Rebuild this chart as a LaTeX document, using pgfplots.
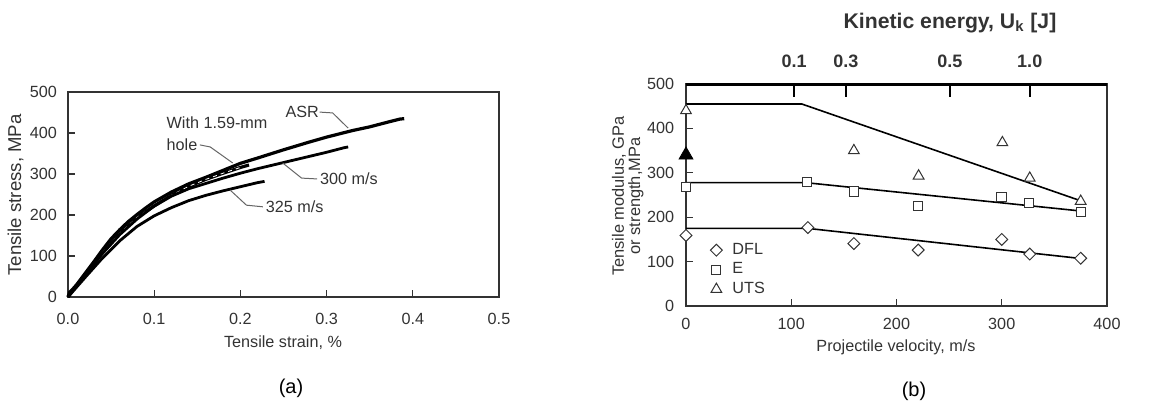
\documentclass[border=0pt]{standalone}
\usepackage{fontspec}
\setmainfont{Liberation Sans}
\usepackage{pgfplots}
\pgfplotsset{compat=1.18}
\definecolor{fg}{gray}{0.2}
\begin{document}
\begin{tikzpicture}
\path[use as bounding box] (0,0) rectangle (581.5pt,201.5pt);
\pgfplotsset{
  every axis/.append style={
    scale only axis, clip=false,
    /pgf/number format/assume math mode=true,
    tick align=inside,
    axis line style={fg, line width=0.55pt},
    tick style={fg, line width=0.55pt},
    major tick length=3.5pt,
    ticklabel style={font=\fontsize{8.1}{9}\selectfont, text=fg},
  }
}
% ---------------- (a)
\begin{axis}[
  at={(34pt,53pt)}, anchor=south west,
  width=215.5pt, height=102.5pt,
  xmin=0, xmax=0.5, ymin=0, ymax=500,
  xtick={0,0.1,0.2,0.3,0.4,0.5},
  xticklabels={0.0,0.1,0.2,0.3,0.4,0.5},
  ytick={0,100,200,300,400,500},
  xtick pos=lower, ytick pos=left,
  xticklabel style={yshift=-4.5pt},
  yticklabel style={xshift=-2pt},
]
% ASR
\addplot[black, line width=1.6pt] coordinates {
(0,0)(0.002,12)(0.005,18)(0.01,30)(0.02,58)(0.03,86)(0.04,115)(0.05,142)
(0.06,164)(0.07,184)(0.08,201)(0.09,217)(0.10,232)(0.12,256)(0.14,276)
(0.16,292)(0.18,309)(0.20,326)(0.22,339)(0.25,359)(0.28,378)(0.30,390)
(0.33,406)(0.35,415)(0.37,426)(0.385,434)(0.39,435)};
% with hole
\addplot[black, line width=1.6pt] coordinates {
(0,0)(0.005,15)(0.02,55)(0.04,108)(0.06,155)(0.08,194)(0.10,222)(0.12,248)
(0.14,270)(0.16,287)(0.18,302)(0.20,316)(0.21,322)};
\addplot[white, line width=0.4pt, dash pattern=on 2pt off 2pt] coordinates {
(0.04,108)(0.06,155)(0.08,194)(0.10,222)(0.12,248)
(0.14,270)(0.16,287)(0.18,302)(0.20,316)};
% 300 m/s
\addplot[black, line width=1.4pt] coordinates {
(0,0)(0.005,14)(0.02,54)(0.04,106)(0.06,152)(0.08,190)(0.10,222)(0.12,246)
(0.14,264)(0.16,277)(0.18,290)(0.20,302)(0.22,313)(0.25,328)(0.28,343)
(0.30,353)(0.32,364)(0.325,366)};
% 325 m/s
\addplot[black, line width=1.4pt] coordinates {
(0,0)(0.005,12)(0.02,48)(0.04,95)(0.06,137)(0.08,172)(0.10,198)(0.12,218)
(0.14,235)(0.16,248)(0.18,259)(0.20,269)(0.22,279)(0.228,282)};
\begin{scope}[font=\fontsize{8.1}{9}\selectfont, text=fg]
\node[anchor=west, inner sep=0pt] at (axis cs:0.252,451) {ASR};
\node[anchor=west, inner sep=0pt] at (axis cs:0.114,424) {With 1.59-mm};
\node[anchor=west, inner sep=0pt] at (axis cs:0.114,371) {hole};
\node[anchor=west, inner sep=0pt] at (axis cs:0.292,288) {300 m/s};
\node[anchor=west, inner sep=0pt] at (axis cs:0.229,220) {325 m/s};
\end{scope}
\draw[black!60, line width=0.5pt] (axis cs:0.292,451) -- (axis cs:0.307,449) -- (axis cs:0.325,412);
\draw[black!60, line width=0.5pt] (axis cs:0.153,371) -- (axis cs:0.165,366) -- (axis cs:0.191,327);
\draw[black!60, line width=0.5pt] (axis cs:0.249,327) -- (axis cs:0.271,290) -- (axis cs:0.289,288);
\draw[black!60, line width=0.5pt] (axis cs:0.188,261) -- (axis cs:0.207,224) -- (axis cs:0.226,220);
\end{axis}
% ---------------- (b)
\begin{axis}[
  at={(343pt,48.5pt)}, anchor=south west,
  width=210.5pt, height=111pt,
  xmin=0, xmax=400, ymin=0, ymax=500,
  xtick={0,100,200,300,400},
  ytick={0,100,200,300,400,500},
  xtick pos=lower, ytick pos=left,
  xticklabel style={yshift=-2.5pt},
  yticklabel style={xshift=-2.4pt},
  legend image code/.code={\path[draw=none] (0cm,0cm) -- (0.36cm,0cm); \draw[#1] plot coordinates {(0.12cm,0cm)};},
  legend style={at={(axis cs:22,148)}, anchor=north west, draw=none, fill=none,
    font=\fontsize{8.1}{9}\selectfont, text=fg, inner sep=0pt, row sep=0.3pt,
    nodes={inner sep=1.2pt}},
  legend cell align=left,
]
\addplot[black, line width=0.8pt, forget plot] coordinates {(0,455)(110,455)(375,237)};
\addplot[black, line width=0.8pt, forget plot] coordinates {(0,278)(113,278)(375,214)};
\addplot[black, line width=0.8pt, forget plot] coordinates {(0,175)(115,175)(375,107)};
\addplot[only marks, mark=square*, mark size=2.1pt,
  mark options={rotate=45, fill=white, draw=fg, line width=0.5pt}] coordinates {
(0,159)(115.8,176.7)(159.5,140.6)(220.6,126)(300,150)(326.6,117)(375,107.5)};
\addlegendentry{DFL}
\addplot[only marks, mark=square*, mark size=2.3pt,
  mark options={fill=white, draw=fg, line width=0.5pt}] coordinates {
(0,268)(114.6,280)(159.5,258)(220.6,226)(299.7,245)(326,231.6)(375,211)};
\addlegendentry{E}
\addplot[only marks, mark=triangle*, mark size=3.1pt,
  mark options={fill=white, draw=fg, line width=0.5pt}] coordinates {
(0,440)(159.5,350)(221,293)(300.6,368)(326.6,288)(375,236)};
\addlegendentry{UTS}
\addplot[only marks, mark=triangle*, mark size=4pt, forget plot,
  mark options={fill=black, draw=black}] coordinates {(0,340)};
\end{axis}
% top axis (kinetic energy)
\begin{axis}[
  at={(343pt,48.5pt)}, anchor=south west,
  width=210.5pt, height=111pt,
  xmin=0, xmax=400, ymin=0, ymax=500,
  axis x line*=top, axis y line=none,
  x axis line style={-, line width=1.5pt, black},
  xtick={102.8,151.9,250.6,326.6},
  xticklabels={0.1,0.3,0.5,1.0},
  tick style={line width=1.1pt, black},
  major tick length=6.5pt,
  xticklabel style={font=\bfseries\fontsize{9}{10}\selectfont, text=fg, yshift=4.5pt},
]
\addplot[draw=none] coordinates {(0,0)(400,500)};
\end{axis}
\node[font=\bfseries\fontsize{10.6}{12}\selectfont, text=fg] at (475pt,190pt) {Kinetic energy, U\textsubscript{k} [J]};
% axis labels
\node[rotate=90, font=\fontsize{9.3}{10}\selectfont, text=fg] at (7.75pt,104pt) {Tensile stress, MPa};
\node[font=\fontsize{8.1}{9}\selectfont, text=fg] at (141.5pt,30pt) {Tensile strain, \%};
\node[rotate=90, font=\fontsize{8.2}{9.2}\selectfont, text=fg] at (309.5pt,103.5pt) {Tensile modulus, GPa};
\node[rotate=90, font=\fontsize{8.2}{9.2}\selectfont, text=fg] at (318pt,103.5pt) {or strength,MPa};
\node[font=\fontsize{8.1}{9}\selectfont, text=fg] at (448pt,28pt) {Projectile velocity, m/s};
\node[font=\fontsize{10}{12}\selectfont] at (145.5pt,7.5pt) {(a)};
\node[font=\fontsize{10}{12}\selectfont] at (457pt,6pt) {(b)};
\end{tikzpicture}
\end{document}
